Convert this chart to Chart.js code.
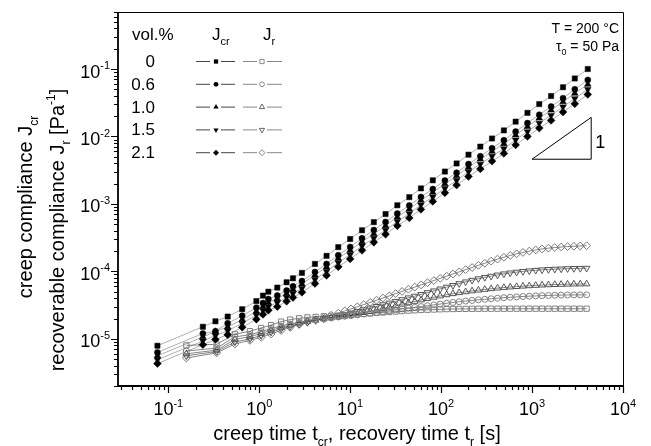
<!DOCTYPE html>
<html>
<head>
<meta charset="utf-8">
<script src="https://cdn.jsdelivr.net/npm/chart.js@4.4.0/dist/chart.umd.min.js"></script>
<style>
  html, body { margin: 0; padding: 0; background: #fff; }
  #chart { display: block; }
</style>
</head>
<body>
<canvas id="chart" width="651" height="446"></canvas>
<script>
// creep time [s] and creep compliance J_cr [1/Pa]
const creepTime = [0.076, 0.24, 0.33, 0.45, 0.65, 0.93, 1.1, 1.26, 1.58, 2.0, 2.35, 2.95, 4.1, 5.5, 7.4, 10, 13.5, 18.2, 24.5, 33, 44.7, 60, 81, 110, 148, 200, 270, 363, 490, 660, 890, 1200, 1620, 2190, 2950, 4100];
const jcr0 = [7.9e-6, 1.51e-5, 1.82e-5, 2.14e-5, 2.75e-5, 3.63e-5, 4.37e-5, 5.0e-5, 5.75e-5, 6.9e-5, 7.9e-5, 9.5e-5, 1.29e-4, 1.7e-4, 2.29e-4, 3.02e-4, 4.07e-4, 5.37e-4, 7.08e-4, 9.55e-4, 1.26e-3, 1.7e-3, 2.24e-3, 3.02e-3, 3.98e-3, 5.37e-3, 7.08e-3, 9.33e-3, 1.23e-2, 1.66e-2, 2.24e-2, 3.02e-2, 3.98e-2, 5.37e-2, 7.24e-2, 0.1];
const jcr06 = [6.3e-6, 1.2e-5, 1.3e-5, 1.7e-5, 2.2e-5, 2.9e-5, 3.4e-5, 3.9e-5, 4.4e-5, 5.2e-5, 6.0e-5, 7.2e-5, 9.8e-5, 1.29e-4, 1.74e-4, 2.3e-4, 3.1e-4, 4.1e-4, 5.4e-4, 7.2e-4, 9.5e-4, 1.27e-3, 1.66e-3, 2.22e-3, 2.9e-3, 3.9e-3, 5.1e-3, 6.7e-3, 8.8e-3, 1.18e-2, 1.58e-2, 2.1e-2, 2.78e-2, 3.7e-2, 5.0e-2, 6.9e-2];
const jcr10 = [5.6e-6, 1.07e-5, 1.28e-5, 1.5e-5, 1.93e-5, 2.55e-5, 3.0e-5, 3.45e-5, 3.95e-5, 4.7e-5, 5.4e-5, 6.5e-5, 8.8e-5, 1.16e-4, 1.56e-4, 2.05e-4, 2.75e-4, 3.6e-4, 4.75e-4, 6.4e-4, 8.4e-4, 1.13e-3, 1.48e-3, 1.98e-3, 2.6e-3, 3.5e-3, 4.6e-3, 6.0e-3, 7.8e-3, 1.05e-2, 1.4e-2, 1.87e-2, 2.45e-2, 3.25e-2, 4.35e-2, 5.9e-2];
const jcr15 = [4.9e-6, 9.3e-6, 1.12e-5, 1.32e-5, 1.7e-5, 2.25e-5, 2.65e-5, 3.0e-5, 3.45e-5, 4.1e-5, 4.7e-5, 5.6e-5, 7.6e-5, 1.0e-4, 1.35e-4, 1.77e-4, 2.38e-4, 3.1e-4, 4.1e-4, 5.5e-4, 7.2e-4, 9.7e-4, 1.27e-3, 1.7e-3, 2.23e-3, 3.0e-3, 3.9e-3, 5.1e-3, 6.6e-3, 8.9e-3, 1.18e-2, 1.58e-2, 2.06e-2, 2.75e-2, 3.65e-2, 5.0e-2];
const jcr21 = [4.3e-6, 8.2e-6, 9.8e-6, 1.15e-5, 1.48e-5, 1.95e-5, 2.3e-5, 2.65e-5, 3.0e-5, 3.6e-5, 4.1e-5, 4.9e-5, 6.6e-5, 8.7e-5, 1.17e-4, 1.53e-4, 2.05e-4, 2.7e-4, 3.55e-4, 4.75e-4, 6.2e-4, 8.3e-4, 1.09e-3, 1.46e-3, 1.9e-3, 2.55e-3, 3.3e-3, 4.3e-3, 5.6e-3, 7.5e-3, 1.0e-2, 1.33e-2, 1.73e-2, 2.3e-2, 3.05e-2, 4.2e-2];

// recovery time [s] and recoverable compliance J_r [1/Pa]
const recTime = [0.158, 0.34, 0.54, 0.79, 1.05, 1.35, 1.74, 2.19, 2.75, 3.39, 4.17, 5.13, 6.17, 7.41, 8.71, 10.2, 12.0, 14.1, 16.6, 19.5, 22.9, 26.9, 31.6, 37.2, 43.7, 51.3, 60.3, 70.8, 83.2, 97.7, 115, 135, 158, 186, 219, 257, 302, 355, 417, 490, 575, 676, 794, 933, 1096, 1288, 1514, 1778, 2089, 2455, 2884, 3388, 3981];
const jr0 = [8.0e-6, 8.3e-6, 1.17e-5, 1.3e-5, 1.45e-5, 1.6e-5, 1.8e-5, 1.93e-5, 2.02e-5, 2.08e-5, 2.12e-5, 2.16e-5, 2.19e-5, 2.21e-5, 2.23e-5, 2.26e-5, 2.3e-5, 2.34e-5, 2.38e-5, 2.42e-5, 2.46e-5, 2.5e-5, 2.54e-5, 2.58e-5, 2.62e-5, 2.65e-5, 2.68e-5, 2.7e-5, 2.72e-5, 2.74e-5, 2.76e-5, 2.77e-5, 2.78e-5, 2.78e-5, 2.79e-5, 2.79e-5, 2.8e-5, 2.8e-5, 2.8e-5, 2.8e-5, 2.8e-5, 2.8e-5, 2.8e-5, 2.8e-5, 2.8e-5, 2.8e-5, 2.8e-5, 2.8e-5, 2.8e-5, 2.8e-5, 2.8e-5, 2.8e-5, 2.8e-5];
const jr06 = [6.6e-6, 7.3e-6, 1.07e-5, 1.15e-5, 1.28e-5, 1.42e-5, 1.55e-5, 1.66e-5, 1.76e-5, 1.84e-5, 1.92e-5, 1.99e-5, 2.05e-5, 2.11e-5, 2.16e-5, 2.21e-5, 2.27e-5, 2.33e-5, 2.4e-5, 2.47e-5, 2.54e-5, 2.61e-5, 2.69e-5, 2.77e-5, 2.85e-5, 2.93e-5, 3.01e-5, 3.1e-5, 3.19e-5, 3.28e-5, 3.37e-5, 3.46e-5, 3.55e-5, 3.63e-5, 3.71e-5, 3.79e-5, 3.86e-5, 3.93e-5, 4.0e-5, 4.07e-5, 4.13e-5, 4.19e-5, 4.24e-5, 4.29e-5, 4.33e-5, 4.37e-5, 4.4e-5, 4.43e-5, 4.45e-5, 4.47e-5, 4.48e-5, 4.49e-5, 4.5e-5];
const jr10 = [6.0e-6, 6.8e-6, 9.8e-6, 1.08e-5, 1.2e-5, 1.34e-5, 1.48e-5, 1.6e-5, 1.71e-5, 1.8e-5, 1.89e-5, 1.97e-5, 2.04e-5, 2.11e-5, 2.18e-5, 2.25e-5, 2.34e-5, 2.45e-5, 2.56e-5, 2.68e-5, 2.81e-5, 2.95e-5, 3.1e-5, 3.26e-5, 3.42e-5, 3.59e-5, 3.77e-5, 3.95e-5, 4.13e-5, 4.32e-5, 4.5e-5, 4.67e-5, 4.83e-5, 4.98e-5, 5.13e-5, 5.27e-5, 5.4e-5, 5.53e-5, 5.65e-5, 5.76e-5, 5.86e-5, 5.95e-5, 6.04e-5, 6.12e-5, 6.19e-5, 6.26e-5, 6.32e-5, 6.37e-5, 6.41e-5, 6.45e-5, 6.48e-5, 6.5e-5, 6.52e-5];
const jr15 = [5.6e-6, 6.5e-6, 9.0e-6, 1.0e-5, 1.12e-5, 1.26e-5, 1.4e-5, 1.53e-5, 1.65e-5, 1.76e-5, 1.87e-5, 1.98e-5, 2.08e-5, 2.19e-5, 2.3e-5, 2.42e-5, 2.56e-5, 2.7e-5, 2.86e-5, 3.03e-5, 3.21e-5, 3.4e-5, 3.6e-5, 3.82e-5, 4.06e-5, 4.3e-5, 4.56e-5, 4.85e-5, 5.15e-5, 5.5e-5, 5.85e-5, 6.2e-5, 6.6e-5, 7.0e-5, 7.4e-5, 7.8e-5, 8.15e-5, 8.5e-5, 8.85e-5, 9.2e-5, 9.5e-5, 9.75e-5, 1.0e-4, 1.02e-4, 1.04e-4, 1.055e-4, 1.07e-4, 1.08e-4, 1.09e-4, 1.1e-4, 1.105e-4, 1.11e-4, 1.115e-4];
const jr21 = [5.2e-6, 6.2e-6, 8.4e-6, 9.5e-6, 1.05e-5, 1.18e-5, 1.33e-5, 1.48e-5, 1.63e-5, 1.78e-5, 1.93e-5, 2.08e-5, 2.24e-5, 2.41e-5, 2.59e-5, 2.78e-5, 2.99e-5, 3.22e-5, 3.47e-5, 3.74e-5, 4.03e-5, 4.34e-5, 4.68e-5, 5.04e-5, 5.43e-5, 5.85e-5, 6.3e-5, 6.79e-5, 7.31e-5, 7.88e-5, 8.49e-5, 9.14e-5, 9.85e-5, 1.06e-4, 1.14e-4, 1.23e-4, 1.32e-4, 1.42e-4, 1.52e-4, 1.62e-4, 1.72e-4, 1.82e-4, 1.91e-4, 2.0e-4, 2.08e-4, 2.15e-4, 2.21e-4, 2.26e-4, 2.3e-4, 2.33e-4, 2.36e-4, 2.38e-4, 2.4e-4];

const volLabels = ['0', '0.6', '1.0', '1.5', '2.1'];
const xTickExp = [-1, 0, 1, 2, 3, 4];
const yTickExp = [-5, -4, -3, -2, -1];

// slope triangle
const slopeX = [1000, 4470, 4470, 1000];
const slopeY = [4.6e-3, 4.6e-3, 1.92e-2, 4.6e-3];

const FONT = '"Liberation Sans", Arial, sans-serif';

// marker shapes per vol.% row
const shapes = [
    { style: 'rect', rotation: 0, radius: 3.7 },
    { style: 'circle', rotation: 0, radius: 3 },
    { style: 'triangle', rotation: 0, radius: 3.8 },
    { style: 'triangle', rotation: 180, radius: 3.8 },
    { style: 'rectRot', rotation: 0, radius: 3.9 }
];
const openColors = ['#808080', '#808080', '#555555', '#555555', '#777777'];

const pts = (xs, ys) => xs.map((v, i) => ({ x: v, y: ys[i] }));

const creepSets = [jcr0, jcr06, jcr10, jcr15, jcr21].map((ys, i) => ({
    data: pts(creepTime, ys),
    showLine: true,
    borderColor: '#777',
    borderWidth: 0.6,
    pointStyle: shapes[i].style,
    rotation: shapes[i].rotation,
    pointRadius: shapes[i].radius,
    pointBackgroundColor: '#000',
    pointBorderColor: '#000',
    pointBorderWidth: 0.5
}));

const recSets = [jr0, jr06, jr10, jr15, jr21].map((ys, i) => ({
    data: pts(recTime, ys),
    showLine: true,
    borderColor: '#333',
    borderWidth: 0.6,
    pointStyle: shapes[i].style,
    rotation: shapes[i].rotation,
    pointRadius: shapes[i].radius,
    pointBackgroundColor: 'rgba(0,0,0,0)',
    pointBorderColor: openColors[i],
    pointBorderWidth: 1
}));

const slopeSet = {
    data: pts(slopeX, slopeY),
    showLine: true,
    borderColor: '#000',
    borderWidth: 1,
    pointRadius: 0
};

// text with sub/superscripts: parts = [[text, mode]], mode 0 normal, 1 sub, 2 sup
function richText(ctx, parts, x, y, size, align) {
    const small = Math.round(size * 0.62);
    let w = 0;
    parts.forEach(([t, m]) => {
        ctx.font = `${m ? small : size}px ${FONT}`;
        w += ctx.measureText(t).width;
    });
    let cx = align === 'center' ? x - w / 2 : align === 'right' ? x - w : x;
    ctx.textAlign = 'left';
    ctx.textBaseline = 'alphabetic';
    parts.forEach(([t, m]) => {
        ctx.font = `${m ? small : size}px ${FONT}`;
        const dy = m === 1 ? size * 0.3 : m === 2 ? -size * 0.47 : 0;
        ctx.fillText(t, cx, y + dy);
        cx += ctx.measureText(t).width;
    });
}

function drawMarker(ctx, idx, x, y, r, filled, color) {
    const s = shapes[idx];
    ctx.beginPath();
    if (s.style === 'rect') {
        const h = r * Math.SQRT1_2;
        ctx.rect(x - h, y - h, 2 * h, 2 * h);
    } else if (s.style === 'circle') {
        ctx.arc(x, y, r * 0.8, 0, Math.PI * 2);
    } else if (s.style === 'triangle') {
        const d = s.rotation ? -1 : 1;
        ctx.moveTo(x, y - d * r);
        ctx.lineTo(x + r * 0.866, y + d * r * 0.5);
        ctx.lineTo(x - r * 0.866, y + d * r * 0.5);
        ctx.closePath();
    } else {
        ctx.moveTo(x, y - r);
        ctx.lineTo(x + r, y);
        ctx.lineTo(x, y + r);
        ctx.lineTo(x - r, y);
        ctx.closePath();
    }
    if (filled) {
        ctx.fillStyle = color;
        ctx.fill();
    } else {
        ctx.strokeStyle = color;
        ctx.lineWidth = 0.9;
        ctx.stroke();
    }
}

const decor = {
    id: 'decor',
    afterDraw(chart) {
        const { ctx, chartArea: a, scales: { x, y } } = chart;
        ctx.save();
        ctx.fillStyle = '#000';
        ctx.strokeStyle = '#000';

        // frame
        ctx.lineWidth = 1;
        ctx.beginPath();
        ctx.moveTo(a.left, a.top + 0.5);
        ctx.lineTo(a.right + 0.5, a.top + 0.5);
        ctx.lineTo(a.right + 0.5, a.bottom);
        ctx.stroke();
        ctx.lineWidth = 1.8;
        ctx.beginPath();
        ctx.moveTo(a.left, a.top);
        ctx.lineTo(a.left, a.bottom);
        ctx.lineTo(a.right + 1, a.bottom);
        ctx.stroke();

        // ticks
        ctx.lineWidth = 1.2;
        ctx.beginPath();
        for (let e = -2; e <= 4; e++) {
            for (let m = 1; m <= 9; m++) {
                const v = m * Math.pow(10, e);
                if (v >= x.min * 0.999 && v <= x.max * 1.001) {
                    const px = Math.round(x.getPixelForValue(v)) + 0.5;
                    ctx.moveTo(px, a.bottom);
                    ctx.lineTo(px, a.bottom + (m === 1 ? 7 : 4));
                }
            }
        }
        for (let e = -6; e <= 0; e++) {
            for (let m = 1; m <= 9; m++) {
                const v = m * Math.pow(10, e);
                if (v >= y.min * 0.999 && v <= y.max * 1.001) {
                    const py = Math.round(y.getPixelForValue(v)) + 0.5;
                    ctx.moveTo(a.left, py);
                    ctx.lineTo(a.left - (m === 1 ? 7 : 4), py);
                }
            }
        }
        ctx.stroke();

        // tick labels
        xTickExp.forEach(e => {
            richText(ctx, [['10', 0], [String(e), 2]], x.getPixelForValue(Math.pow(10, e)), a.bottom + 29, 18, 'center');
        });
        yTickExp.forEach(e => {
            richText(ctx, [['10', 0], [String(e), 2]], a.left - 8, y.getPixelForValue(Math.pow(10, e)) + 8.5, 18, 'right');
        });

        // axis titles
        richText(ctx, [['creep time t', 0], ['cr', 1], [', recovery time t', 0], ['r', 1], [' [s]', 0]], 357, 440, 20, 'center');
        ctx.save();
        ctx.translate(32, 207);
        ctx.rotate(-Math.PI / 2);
        richText(ctx, [['creep compliance J', 0], ['cr', 1]], 0, 0, 20, 'center');
        ctx.restore();
        ctx.save();
        ctx.translate(64, 230);
        ctx.rotate(-Math.PI / 2);
        richText(ctx, [['recoverable compliance J', 0], ['r', 1], [' [Pa', 0], ['-1', 2], [']', 0]], 0, 0, 20, 'center');
        ctx.restore();

        // conditions
        richText(ctx, [['T = 200 °C', 0]], a.right - 4, 33, 14, 'right');
        richText(ctx, [['\u03C4', 0], ['0', 1], [' = 50 Pa', 0]], a.right - 4, 51, 14, 'right');

        // slope label
        richText(ctx, [['1', 0]], x.getPixelForValue(slopeX[1]) + 4, 148, 18, 'left');

        // legend table
        richText(ctx, [['vol.%', 0]], 132, 40, 17, 'left');
        richText(ctx, [['J', 0], ['cr', 1]], 212, 40, 17, 'left');
        richText(ctx, [['J', 0], ['r', 1]], 263, 40, 17, 'left');
        volLabels.forEach((lab, i) => {
            const base = 67 + i * 22.8;
            const my = base - 5.5;
            ctx.fillStyle = '#000';
            richText(ctx, [[lab, 0]], 155, base, 17, 'right');
            ctx.lineWidth = 1;
            ctx.strokeStyle = '#444';
            ctx.beginPath();
            ctx.moveTo(196, my); ctx.lineTo(210, my);
            ctx.moveTo(221, my); ctx.lineTo(235, my);
            ctx.stroke();
            ctx.strokeStyle = '#888';
            ctx.beginPath();
            ctx.moveTo(243, my); ctx.lineTo(257, my);
            ctx.moveTo(267, my); ctx.lineTo(282, my);
            ctx.stroke();
            drawMarker(ctx, i, 216, my, 3, true, '#000');
            drawMarker(ctx, i, 262, my, 3, false, openColors[i]);
        });
        ctx.restore();
    }
};

new Chart(document.getElementById('chart'), {
    type: 'scatter',
    data: { datasets: [...creepSets, ...recSets, slopeSet] },
    options: {
        responsive: false,
        animation: false,
        devicePixelRatio: 1,
        layout: { padding: { left: 118, top: 12, right: 28, bottom: 60 } },
        scales: {
            x: { type: 'logarithmic', display: false, min: 0.028, max: 10000 },
            y: { type: 'logarithmic', display: false, min: 2e-6, max: 0.7 }
        },
        plugins: {
            legend: { display: false },
            tooltip: { enabled: false }
        }
    },
    plugins: [decor]
});
</script>
</body>
</html>
